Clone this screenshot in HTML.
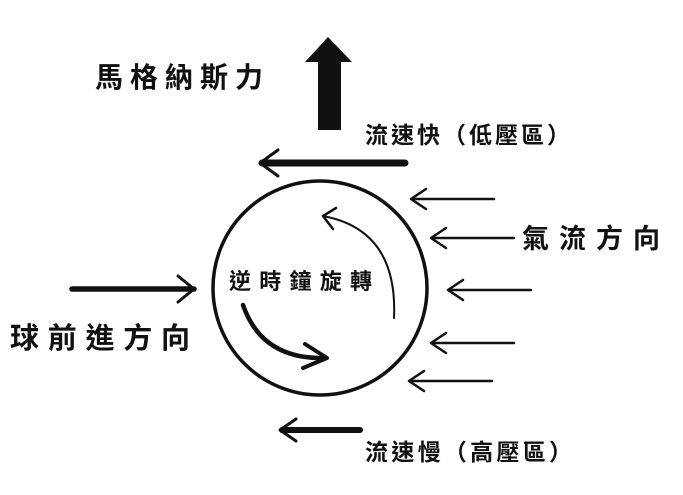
<!DOCTYPE html>
<html><head><meta charset="utf-8"><style>
html,body{margin:0;padding:0;background:#fff;}
svg{display:block}
text{font-family:"Liberation Sans","Noto Sans CJK TC",sans-serif;font-weight:bold;fill:#111;}
</style></head><body>
<svg width="683" height="495" viewBox="0 0 683 495" xmlns="http://www.w3.org/2000/svg">
<rect width="683" height="495" fill="#fff"/>
<g stroke="#111" fill="none" stroke-linecap="round" stroke-linejoin="round">
<circle cx="320" cy="288" r="107" stroke-width="3.5"/>
<polygon points="305,62 328,37 352,62 341,62 341,130 318,130 318,62" fill="#111" stroke="none"/>
<line x1="405" y1="163" x2="262" y2="163" stroke-width="7"/>
<polyline points="278,150 260,163 278,176" stroke-width="3"/>
<line x1="72" y1="289" x2="194" y2="289" stroke-width="5.5"/>
<polyline points="178,276 194,289 178,302" stroke-width="3"/>
<line x1="360" y1="430" x2="282" y2="430" stroke-width="6"/>
<polyline points="296,419 280,430 296,441" stroke-width="3"/>
<g stroke-width="2.5">
<line x1="494" y1="199" x2="412" y2="199"/><polyline points="426,189 411,199 426,209"/>
<line x1="514" y1="238" x2="432" y2="238"/><polyline points="446,228 431,238 446,248"/>
<line x1="531" y1="290" x2="449" y2="290"/><polyline points="463,280 448,290 463,300"/>
<line x1="514" y1="343" x2="432" y2="343"/><polyline points="446,333 431,343 446,353"/>
<line x1="492" y1="381" x2="410" y2="381"/><polyline points="424,371 409,381 424,391"/>
</g>
<path d="M323,216 Q398,230 394,318" stroke-width="2"/>
<polyline points="336,208 323,216 333,229" stroke-width="2.5"/>
<path d="M243,305 Q262,360 326,358" stroke-width="4.5"/>
<polyline points="305,344 327,358 303,368" stroke-width="4"/>
</g>
<text x="95" y="87" font-size="28" textLength="168" lengthAdjust="spacing">馬格納斯力</text>
<text x="365" y="143" font-size="23" textLength="205" lengthAdjust="spacing">流速快（低壓區）</text>
<text x="522" y="248" font-size="27" textLength="138" lengthAdjust="spacing">氣流方向</text>
<text x="10" y="348" font-size="29" textLength="180" lengthAdjust="spacing">球前進方向</text>
<text x="229" y="289" font-size="22" textLength="143" lengthAdjust="spacing">逆時鐘旋轉</text>
<text x="365" y="460" font-size="23" textLength="207" lengthAdjust="spacing">流速慢（高壓區）</text>
</svg>
</body></html>
